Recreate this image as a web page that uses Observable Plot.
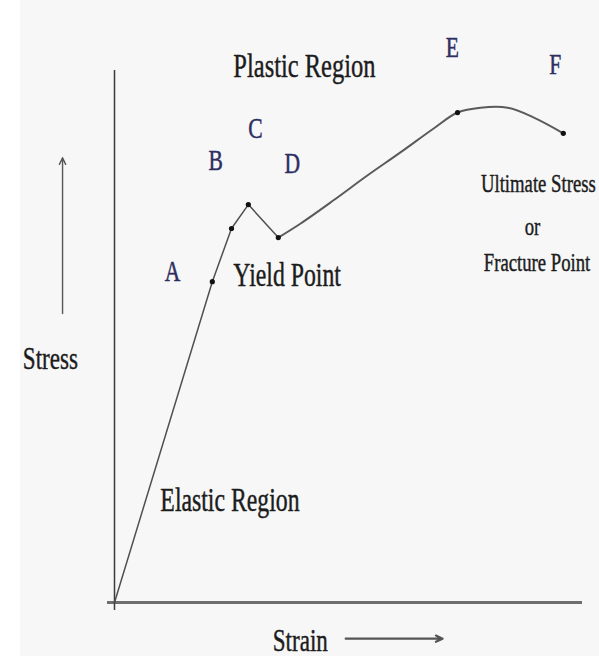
<!DOCTYPE html>
<html>
<head>
<meta charset="utf-8">
<script src="https://cdn.jsdelivr.net/npm/d3@7"></script>
<script src="https://cdn.jsdelivr.net/npm/@observablehq/plot@0.6"></script>
<style>
  body { margin: 0; background: #fff; }
</style>
</head>
<body>
<div id="chart"></div>
<script>
// Elastic part: straight through O, A, B up to the yield peak C, then the drop to D
const elasticStrain = [0, 20.9, 25.0, 28.6, 35.0];
const elasticStress = [0, 60.3, 70.3, 74.8, 68.6];

// Plastic part: strain hardening from D up to E, then necking down to fracture at F
const plasticStrain = [35.0, 39.7, 46.8, 54.1, 61.1, 68.2, 73.3, 78.2, 84.0, 89.5, 95.9];
const plasticStress = [68.6, 71.2, 75.6, 80.3, 84.6, 89.1, 92.1, 93.0, 93.0, 91.2, 88.2];

// Marked points on the curve
const pointNames  = ["A", "B", "C", "D", "E", "F"];
const pointStrain = [20.9, 25.0, 28.6, 35.0, 73.3, 95.9];
const pointStress = [60.3, 70.3, 74.8, 68.6, 92.1, 88.2];

// Where each point's letter sits
const letterStrain = [12.4, 21.6, 30.1, 38.0, 72.2, 94.2];
const letterStress = [62.2, 83.1, 89.1, 82.5, 104.3, 101.1];

// Region notes (left-aligned)
const noteText   = ["Plastic Region", "Elastic Region", "Yield Point", "Ultimate Stress", "Fracture Point"];
const noteStrain = [25.4, 9.8, 25.4, 78.3, 78.9];
const noteStress = [100.8, 19.2, 61.5, 78.8, 63.9];

// The "or" between the two fracture notes
const orText = ["or"];
const orStrain = [89.3];
const orStress = [70.7];

// Axis names and their direction arrows
const axisNames  = ["Stress", "Strain"];
const axisStrain = [-13.7, 39.7];
const axisStress = [45.9, -7.1];
const arrowFrom = [{x: -11.1, y: 54.3}, {x: 49.4, y: -6.8}];
const arrowTo   = [{x: -11.1, y: 83.6}, {x: 70.1, y: -6.8}];

const elastic = elasticStrain.map((s, i) => ({strain: s, stress: elasticStress[i]}));
const plastic = plasticStrain.map((s, i) => ({strain: s, stress: plasticStress[i]}));
const points  = pointNames.map((n, i) => ({name: n, strain: pointStrain[i], stress: pointStress[i]}));
const letters = pointNames.map((n, i) => ({name: n, strain: letterStrain[i], stress: letterStress[i]}));
const notes   = noteText.map((t, i) => ({text: t, strain: noteStrain[i], stress: noteStress[i]}));
const ors     = orText.map((t, i) => ({text: t, strain: orStrain[i], stress: orStress[i]}));
const axisLabels = axisNames.map((t, i) => ({text: t, strain: axisStrain[i], stress: axisStress[i]}));
const arrows = arrowFrom.map((a, i) => ({x1: a.x, y1: a.y, x2: arrowTo[i].x, y2: arrowTo[i].y, axis: axisNames[i]}));

const serif = "'Liberation Serif', 'Times New Roman', serif";
const ink = "#1c1c1c";
const letterInk = "#2e2e62";

const noteSize = (d) =>
  d.text === "Ultimate Stress" || d.text === "Fracture Point" ? 26 : (d.text === "Plastic Region" ? 34 : 33);

const chart = Plot.plot({
  width: 599,
  height: 656,
  marginLeft: 114,
  marginRight: 17,
  marginTop: 70,
  marginBottom: 54,
  x: {domain: [0, 100], axis: null},
  y: {domain: [0, 100], axis: null},
  style: {
    background: "linear-gradient(to right, #ffffff 0 20px, #f7f7f7 20px)",
    fontFamily: serif,
    overflow: "visible"
  },
  marks: [
    // axes
    Plot.ruleY([0], {x1: -1.5, x2: 100, stroke: "#6e6e6e", strokeWidth: 3}),
    Plot.ruleX([0], {y1: -1.5, y2: 100, stroke: "#3a3a3a", strokeWidth: 1.5}),
    // curve
    Plot.line(elastic, {x: "strain", y: "stress", stroke: "#505050", strokeWidth: 1.5}),
    Plot.line(plastic, {x: "strain", y: "stress", stroke: "#5a5a5a", strokeWidth: 2, curve: "catmull-rom"}),
    Plot.dot(points, {x: "strain", y: "stress", r: 2.6, fill: "#111", stroke: "none"}),
    // point letters
    Plot.text(letters, {x: "strain", y: "stress", text: "name", fill: letterInk,
      stroke: letterInk, strokeWidth: 0.5, fontSize: 30}),
    // notes
    Plot.text(notes, {x: "strain", y: "stress", text: "text", textAnchor: "start", fill: ink,
      stroke: ink, strokeWidth: 0.45, fontSize: noteSize}),
    Plot.text(ors, {x: "strain", y: "stress", text: "text", fill: ink, stroke: ink, strokeWidth: 0.4, fontSize: 26}),
    // axis names and arrows
    Plot.text(axisLabels, {x: "strain", y: "stress", text: "text", fill: ink, stroke: ink, strokeWidth: 0.45, fontSize: 32}),
    Plot.arrow(arrows, {x1: "x1", y1: "y1", x2: "x2", y2: "y2", stroke: "#555",
      strokeWidth: (d) => d.axis === "Strain" ? 2.2 : 1.4, headLength: 11, headAngle: 50})
  ]
});

// The lettering is set narrow: condense every label horizontally about its anchor
chart.querySelectorAll("text").forEach((t) => {
  const tr = t.getAttribute("transform") || "";
  t.setAttribute("transform", (tr + " scale(0.72,1)").trim());
});

document.getElementById("chart").append(chart);
</script>
</body>
</html>
